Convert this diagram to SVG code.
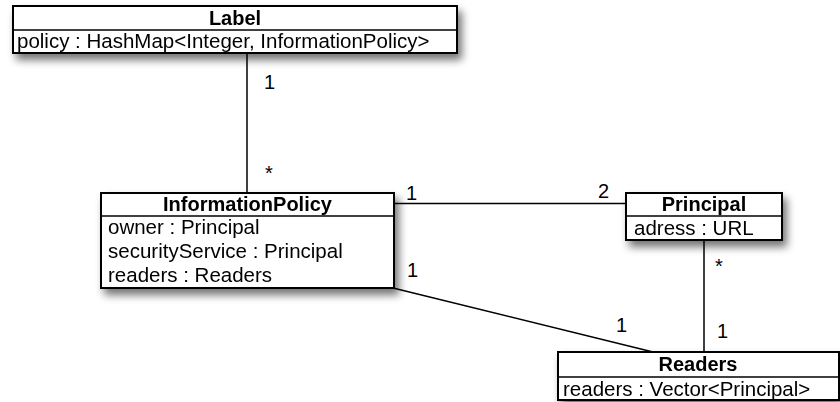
<svg xmlns="http://www.w3.org/2000/svg" width="840" height="402" viewBox="0 0 840 402">
  <style>
    .box { fill: #ffffff; stroke: #000000; stroke-width: 2; }
    .sep { stroke: #000000; stroke-width: 1.5; }
    .title { font-family: "Liberation Sans", Arial, sans-serif; font-size: 20px; font-weight: bold; text-anchor: middle; fill: #000; }
    .attr { font-family: "Liberation Sans", Arial, sans-serif; font-size: 20.5px; fill: #000; }
    .mult { font-family: "Liberation Sans", Arial, sans-serif; font-size: 20px; fill: #000; }
    .edge { stroke: #000000; stroke-width: 1.5; fill: none; }
  </style>
  <defs>
    <filter id="shadow" x="-10%" y="-20%" width="130%" height="160%">
      <feGaussianBlur in="SourceAlpha" stdDeviation="4"/>
      <feOffset dx="4" dy="6" result="blur"/>
      <feComponentTransfer><feFuncA type="linear" slope="0.55"/></feComponentTransfer>
      <feMerge><feMergeNode/><feMergeNode in="SourceGraphic"/></feMerge>
    </filter>
  </defs>
  <rect width="840" height="402" fill="#ffffff"/>

  <g id="connectors">
    <line class="edge" x1="247" y1="53" x2="247" y2="193"/>
    <line class="edge" x1="394" y1="203.5" x2="626" y2="203.5"/>
    <line class="edge" x1="393" y1="288" x2="653" y2="352"/>
    <line class="edge" x1="704" y1="240" x2="704" y2="352"/>
    <text class="mult" x="264" y="89">1</text>
    <text class="mult" x="265" y="180">*</text>
    <text class="mult" x="406" y="200">1</text>
    <text class="mult" x="598" y="198">2</text>
    <text class="mult" x="407" y="277">1</text>
    <text class="mult" x="715" y="273">*</text>
    <text class="mult" x="616" y="332">1</text>
    <text class="mult" x="717" y="338">1</text>
  </g>

  <g id="label" filter="url(#shadow)">
    <rect class="box" x="13" y="6" width="444" height="47"/>
    <line class="sep" x1="13" y1="30" x2="457" y2="30"/>
    <text class="title" x="235" y="25">Label</text>
    <text class="attr" x="17" y="48">policy : HashMap&lt;Integer, InformationPolicy&gt;</text>
  </g>

  <g id="informationPolicy" filter="url(#shadow)">
    <rect class="box" x="101" y="193" width="293" height="95"/>
    <line class="sep" x1="101" y1="216" x2="394" y2="216"/>
    <text class="title" x="247.5" y="211">InformationPolicy</text>
    <text class="attr" x="108" y="234">owner : Principal</text>
    <text class="attr" x="108" y="258">securityService : Principal</text>
    <text class="attr" x="108" y="282">readers : Readers</text>
  </g>

  <g id="principal" filter="url(#shadow)">
    <rect class="box" x="626" y="193" width="156" height="47"/>
    <line class="sep" x1="626" y1="216" x2="782" y2="216"/>
    <text class="title" x="704" y="211">Principal</text>
    <text class="attr" x="634" y="235">adress : URL</text>
  </g>

  <g id="readers" filter="url(#shadow)">
    <rect class="box" x="558" y="352" width="281" height="48"/>
    <line class="sep" x1="558" y1="377" x2="839" y2="377"/>
    <text class="title" x="698" y="371">Readers</text>
    <text class="attr" x="563" y="396">readers : Vector&lt;Principal&gt;</text>
  </g>
</svg>
